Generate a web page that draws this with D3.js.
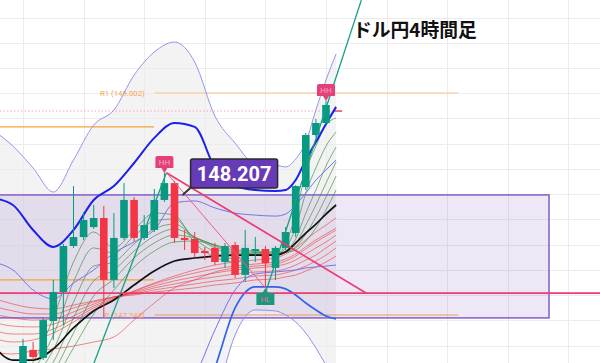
<!DOCTYPE html>
<html>
<head>
<meta charset="utf-8">
<script src="https://cdn.jsdelivr.net/npm/d3@7"></script>
<style>
  body { margin: 0; background: #fff; }
  svg { display: block; }
</style>
</head>
<body>
<svg id="chart" width="600" height="363"></svg>
<script>
// candles (4h), index 0..30
const candleOpen = [146.822, 146.965, 146.902, 147.194, 147.424, 147.789, 147.860, 147.939, 148.011, 147.520, 147.853, 148.154, 147.853, 147.916, 148.154, 148.288, 147.853, 147.845, 147.749, 147.774, 147.662, 147.797, 147.560, 147.749, 147.765, 147.615, 147.774, 147.892, 148.256, 148.669, 148.764];
const candleHigh = [147.052, 147.028, 147.219, 147.520, 147.805, 148.264, 148.058, 148.114, 148.106, 148.050, 148.288, 148.177, 148.034, 148.241, 148.368, 148.304, 147.916, 147.900, 147.781, 147.813, 147.813, 147.821, 147.916, 147.860, 147.789, 147.789, 147.939, 148.272, 148.685, 148.796, 148.939];
const candleLow = [146.790, 146.885, 146.885, 147.044, 147.162, 147.774, 147.837, 147.924, 147.226, 147.457, 147.837, 147.821, 147.837, 147.900, 148.138, 147.813, 147.757, 147.701, 147.678, 147.638, 147.615, 147.536, 147.504, 147.662, 147.457, 147.520, 147.757, 147.860, 148.233, 148.653, 148.749];
const candleClose = [146.996, 146.909, 147.202, 147.424, 147.789, 147.860, 147.995, 148.011, 147.520, 147.853, 148.154, 147.853, 147.955, 148.154, 148.288, 147.853, 147.837, 147.733, 147.733, 147.662, 147.789, 147.560, 147.774, 147.765, 147.654, 147.774, 147.900, 148.264, 148.669, 148.764, 148.907];

// indicator lines, sampled at these candle indexes
const knots = [-3, -1, 1, 3, 5, 7, 9, 11, 13, 15, 17, 19, 21, 23, 25, 26, 27, 28, 29, 30, 31];

const bbUpper3 = [148.709, 148.581, 148.408, 148.217, 148.471, 148.748, 148.867, 149.144, 149.327, 149.406, 149.248, 148.819, 148.605, 148.439, 148.431, 148.416, 148.479, 148.613, 148.867, 149.105, 149.311];
const bbUpper2 = [148.170, 148.114, 147.916, 147.782, 147.916, 148.154, 148.264, 148.447, 148.646, 148.764, 148.733, 148.408, 148.264, 148.233, 148.225, 148.233, 148.312, 148.471, 148.613, 148.756, 148.892];
const bbUpper1 = [147.662, 147.599, 147.440, 147.369, 147.496, 147.599, 147.733, 147.821, 147.916, 148.130, 148.146, 148.091, 148.050, 148.034, 148.026, 148.042, 148.114, 148.209, 148.312, 148.392, 148.471];
const bbLower1 = [146.410, 146.568, 146.410, 146.370, 146.330, 146.410, 146.489, 146.489, 146.568, 146.647, 146.766, 147.123, 147.440, 147.567, 147.583, 147.591, 147.599, 147.615, 147.623, 147.630, 147.638];
const bbLower2 = [145.934, 146.013, 145.934, 145.855, 145.775, 145.855, 145.934, 146.013, 146.093, 146.172, 146.410, 146.822, 147.298, 147.465, 147.465, 147.449, 147.401, 147.337, 147.282, 147.234, 147.210];
const bbLower3 = [145.458, 145.458, 145.379, 145.300, 145.220, 145.300, 145.379, 145.458, 145.617, 145.696, 145.934, 146.528, 147.083, 147.282, 147.274, 147.242, 147.186, 147.099, 146.981, 146.845, 146.727];

const blackMa = [147.004, 146.885, 146.885, 146.973, 147.139, 147.274, 147.361, 147.480, 147.591, 147.670, 147.694, 147.709, 147.717, 147.717, 147.717, 147.741, 147.813, 147.892, 147.963, 148.042, 148.114];

const greenMas = [
  [146.687, 146.743, 146.869, 147.219, 147.662, 147.900, 147.774, 147.916, 148.050, 148.034, 147.813, 147.701, 147.662, 147.741, 147.717, 147.805, 148.042, 148.376, 148.581, 148.748, 148.804],
  [146.647, 146.695, 146.806, 147.083, 147.504, 147.774, 147.733, 147.868, 147.987, 148.003, 147.845, 147.741, 147.686, 147.725, 147.717, 147.774, 147.932, 148.209, 148.408, 148.581, 148.693],
  [146.607, 146.647, 146.743, 146.965, 147.345, 147.630, 147.662, 147.805, 147.924, 147.963, 147.860, 147.774, 147.709, 147.725, 147.717, 147.749, 147.845, 148.050, 148.233, 148.423, 148.574],
  [146.584, 146.615, 146.695, 146.869, 147.219, 147.512, 147.599, 147.749, 147.868, 147.924, 147.860, 147.789, 147.725, 147.733, 147.725, 147.741, 147.805, 147.955, 148.114, 148.288, 148.455],
  [146.560, 146.584, 146.655, 146.790, 147.099, 147.393, 147.528, 147.694, 147.813, 147.876, 147.853, 147.797, 147.741, 147.741, 147.733, 147.741, 147.782, 147.884, 148.018, 148.177, 148.344],
  [146.536, 146.560, 146.615, 146.719, 146.981, 147.250, 147.440, 147.623, 147.749, 147.821, 147.829, 147.797, 147.757, 147.749, 147.741, 147.741, 147.757, 147.829, 147.932, 148.074, 148.233]
];

const redMas = [
  [147.060, 147.028, 147.044, 147.099, 147.186, 147.282, 147.361, 147.432, 147.496, 147.551, 147.599, 147.638, 147.662, 147.678, 147.694, 147.725, 147.774, 147.837, 147.900, 147.955, 148.011],
  [147.123, 147.091, 147.091, 147.131, 147.210, 147.298, 147.369, 147.432, 147.488, 147.536, 147.575, 147.607, 147.630, 147.646, 147.662, 147.686, 147.725, 147.782, 147.837, 147.884, 147.932],
  [147.186, 147.154, 147.147, 147.170, 147.234, 147.313, 147.377, 147.424, 147.472, 147.512, 147.544, 147.575, 147.599, 147.615, 147.630, 147.646, 147.678, 147.725, 147.774, 147.821, 147.876],
  [147.250, 147.219, 147.202, 147.210, 147.266, 147.329, 147.385, 147.416, 147.457, 147.488, 147.520, 147.544, 147.567, 147.583, 147.591, 147.607, 147.638, 147.678, 147.717, 147.774, 147.829],
  [147.313, 147.274, 147.250, 147.250, 147.298, 147.345, 147.385, 147.409, 147.440, 147.465, 147.488, 147.512, 147.528, 147.551, 147.559, 147.575, 147.599, 147.630, 147.670, 147.717, 147.774],
  [147.377, 147.329, 147.298, 147.290, 147.321, 147.353, 147.385, 147.401, 147.424, 147.440, 147.457, 147.480, 147.496, 147.520, 147.528, 147.544, 147.559, 147.591, 147.623, 147.662, 147.709],
  [146.949, 146.933, 146.957, 146.973, 146.996, 147.028, 147.068, 147.202, 147.337, 147.457, 147.520, 147.583, 147.615, 147.630, 147.646, 147.670, 147.709, 147.765, 147.821, 147.868, 147.916]
];

// levels
const pivotLevels = [
  { name: "R1", value: 149.002, from: 13.05, to: 43.1 },
  { name: "P", value: 147.242, from: 13.05, to: 43.1 }
];
const prevPivotLevels = [148.733, 147.520];
const lastPrice = 148.859;
const supportLine = 147.416;
const zoneTop = 148.194, zoneBottom = 147.219, zoneFrom = -2.8, zoneTo = 52.08;

// drawn trend lines [[index, price], [index, price]]
const tealLines = [
  [[24.1, 147.44], [33.5, 149.739]],
  [[6.5, 146.75], [14.2, 148.37]]
];
const pinkLines = [
  [[14.2, 148.37], [33.96, 147.416]],
  [[14.2, 148.37], [24.0, 147.457]]
];
const swingLabels = [
  { text: "HH", index: 14, kind: "high" },
  { text: "HH", index: 30, kind: "high" },
  { text: "HL", index: 24, kind: "low" }
];
const calloutIndex = 15.8, calloutPrice = 148.194, calloutText = "148.207";
const title = "ドル円4時間足";

const svg = d3.select("#chart");
const W = 600, H = 363;

const x = d3.scaleLinear().domain([0, 30]).range([23, 326]);
const y = d3.scaleLinear().domain([149.002, 147.242]).range([93, 315]);

svg.append("rect").attr("width", W).attr("height", H).attr("fill", "#fff");

// bollinger fill
const area = d3.area()
  .x((d, i) => x(knots[i]))
  .y0((d, i) => y(bbLower3[i]))
  .y1((d, i) => y(bbUpper3[i]))
  .curve(d3.curveMonotoneX);
svg.append("path").datum(knots).attr("d", area).attr("fill", "#f3f3f3");

// grid
const grid = svg.append("g").attr("class", "grid");
grid.selectAll(".vg")
  .data(d3.range(0, 60, 6))
  .enter()
  .append("line")
  .attr("x1", (d) => Math.round(x(d)) + 0.5)
  .attr("x2", (d) => Math.round(x(d)) + 0.5)
  .attr("y1", 0)
  .attr("y2", H)
  .attr("stroke", "#ececec");
grid.selectAll(".hg")
  .data(d3.range(147.0, 149.61, 0.2))
  .enter()
  .append("line")
  .attr("x1", 0)
  .attr("x2", W)
  .attr("y1", (d) => Math.round(y(d)) + 0.5)
  .attr("y2", (d) => Math.round(y(d)) + 0.5)
  .attr("stroke", "#ececec");

// zone box
svg.append("rect")
  .attr("x", x(zoneFrom))
  .attr("y", y(zoneTop))
  .attr("width", x(zoneTo) - x(zoneFrom))
  .attr("height", y(zoneBottom) - y(zoneTop))
  .attr("fill", "rgba(103,58,183,0.12)")
  .attr("stroke", "#8a66c9")
  .attr("stroke-width", 1.6);

// pivot lines
prevPivotLevels.forEach((v) => {
  svg.append("line")
    .attr("x1", x(-3)).attr("x2", x(12.97))
    .attr("y1", y(v)).attr("y2", y(v))
    .attr("stroke", "#f5a23c").attr("stroke-width", 1.3);
});
pivotLevels.forEach((p) => {
  svg.append("line")
    .attr("x1", x(p.from)).attr("x2", x(p.to))
    .attr("y1", y(p.value)).attr("y2", y(p.value))
    .attr("stroke", p.name === "R1" ? "#fbc48a" : "#e6a055")
    .attr("stroke-width", 1.1);
  svg.append("text")
    .attr("x", x(p.from) - 10)
    .attr("y", y(p.value) + 3)
    .attr("text-anchor", "end")
    .attr("font-family", "Roboto, sans-serif")
    .attr("font-size", 7.8)
    .attr("fill", "#f3a64a")
    .text(`${p.name} (${p.value.toFixed(3)})`);
});

// last price dotted line
svg.append("line")
  .attr("x1", 0).attr("x2", x(30.7))
  .attr("y1", y(lastPrice)).attr("y2", y(lastPrice))
  .attr("stroke", "#f4a7bd").attr("stroke-width", 1)
  .attr("stroke-dasharray", "1.5,2");
svg.append("line")
  .attr("x1", x(30.7)).attr("x2", x(31.6))
  .attr("y1", y(lastPrice)).attr("y2", y(lastPrice))
  .attr("stroke", "#f23645").attr("stroke-width", 1.4);

const line = d3.line()
  .x((d, i) => x(knots[i]))
  .y((d) => y(d))
  .curve(d3.curveMonotoneX);

// moving averages
redMas.forEach((s) => {
  svg.append("path").datum(s).attr("d", line)
    .attr("fill", "none").attr("stroke", "rgba(240,60,60,0.6)").attr("stroke-width", 1);
});
greenMas.forEach((s) => {
  svg.append("path").datum(s).attr("d", line)
    .attr("fill", "none").attr("stroke", "rgba(60,140,60,0.65)").attr("stroke-width", 1);
});
svg.append("path").datum(blackMa).attr("d", line)
  .attr("fill", "none").attr("stroke", "#111").attr("stroke-width", 1.7);

// bollinger lines
const bbStyles = [
  [bbUpper3, "#9595f2", 1],
  [bbLower3, "#8f8ff0", 1],
  [bbUpper1, "#7474ee", 1],
  [bbLower1, "#7474ee", 1],
  [bbUpper2, "#1b1ff0", 2],
  [bbLower2, "#3062f2", 1.7]
];
bbStyles.forEach(([s, c, w]) => {
  svg.append("path").datum(s).attr("d", line)
    .attr("fill", "none").attr("stroke", c).attr("stroke-width", w);
});

// support line
svg.append("line")
  .attr("x1", 0).attr("x2", W)
  .attr("y1", y(supportLine)).attr("y2", y(supportLine))
  .attr("stroke", "#ee3a72").attr("stroke-width", 1.8);

// candles
const bodyW = 7.6;
const candleG = svg.append("g");
candleClose.forEach((c, i) => {
  const o = candleOpen[i];
  const col = c >= o ? "#089981" : "#f23645";
  const cx = x(i);
  candleG.append("line")
    .attr("x1", cx).attr("x2", cx)
    .attr("y1", y(candleHigh[i])).attr("y2", y(candleLow[i]))
    .attr("stroke", col).attr("stroke-width", 1);
  const top = y(Math.max(o, c));
  const h = Math.max(1.5, y(Math.min(o, c)) - top);
  candleG.append("rect")
    .attr("x", cx - bodyW / 2).attr("y", top)
    .attr("width", bodyW).attr("height", h)
    .attr("fill", col);
});

// trend lines
tealLines.forEach((l) => {
  svg.append("line")
    .attr("x1", x(l[0][0])).attr("y1", y(l[0][1]))
    .attr("x2", x(l[1][0])).attr("y2", y(l[1][1]))
    .attr("stroke", "#16a085").attr("stroke-width", 1.3);
});
pinkLines.forEach((l, k) => {
  svg.append("line")
    .attr("x1", x(l[0][0])).attr("y1", y(l[0][1]))
    .attr("x2", x(l[1][0])).attr("y2", y(l[1][1]))
    .attr("stroke", k === 0 ? "#ee3a72" : "#f05a8a")
    .attr("stroke-width", k === 0 ? 1.6 : 1);
});

// swing labels
swingLabels.forEach((s) => {
  const cx = x(s.index);
  const bw = 18, bh = 12, tip = 5;
  let d, ty, fill, tcol;
  if (s.kind === "high") {
    const py = y(candleHigh[s.index]);
    const top = py - tip - bh;
    d = `M${cx - bw / 2},${top + 2} q0,-2 2,-2 h${bw - 4} q2,0 2,2 v${bh - 2} h${-(bw / 2 - 3)} l-3,${tip} l-3,${-tip} h${-(bw / 2 - 3)} z`;
    ty = top + bh - 3;
    fill = "#e5407a";
    tcol = "#f6a9c2";
  } else {
    const py = y(candleLow[s.index]);
    const top = py + tip;
    d = `M${cx - bw / 2},${top} h${bw / 2 - 3} l3,${-tip} l3,${tip} h${bw / 2 - 3} v${bh} h${-bw} z`;
    ty = top + bh - 3;
    fill = "#17997e";
    tcol = "#f26592";
  }
  svg.append("path").attr("d", d).attr("fill", fill);
  svg.append("text")
    .attr("x", cx).attr("y", ty)
    .attr("text-anchor", "middle")
    .attr("font-family", "Roboto, sans-serif")
    .attr("font-size", 8)
    .attr("fill", tcol)
    .text(s.text);
});

// price callout
const ax = x(calloutIndex), ay = y(calloutPrice);
svg.append("line")
  .attr("x1", ax).attr("y1", ay)
  .attr("x2", ax + 10).attr("y2", ay - 9)
  .attr("stroke", "#333").attr("stroke-width", 2);
svg.append("rect")
  .attr("x", ax + 8).attr("y", ay - 36)
  .attr("width", 87).attr("height", 29)
  .attr("rx", 2)
  .attr("fill", "#673ab7")
  .attr("stroke", "#2a2a2a").attr("stroke-width", 1.5);
svg.append("text")
  .attr("x", ax + 51.5).attr("y", ay - 14)
  .attr("text-anchor", "middle")
  .attr("font-family", "Roboto, sans-serif")
  .attr("font-weight", "bold")
  .attr("font-size", 20)
  .attr("fill", "#fff")
  .text(calloutText);

// title
svg.append("text")
  .attr("x", 353).attr("y", 37)
  .attr("font-family", "'Noto Sans CJK JP', sans-serif")
  .attr("font-weight", "bold")
  .attr("font-size", 18.8)
  .attr("fill", "#111")
  .text(title);
</script>
</body>
</html>
